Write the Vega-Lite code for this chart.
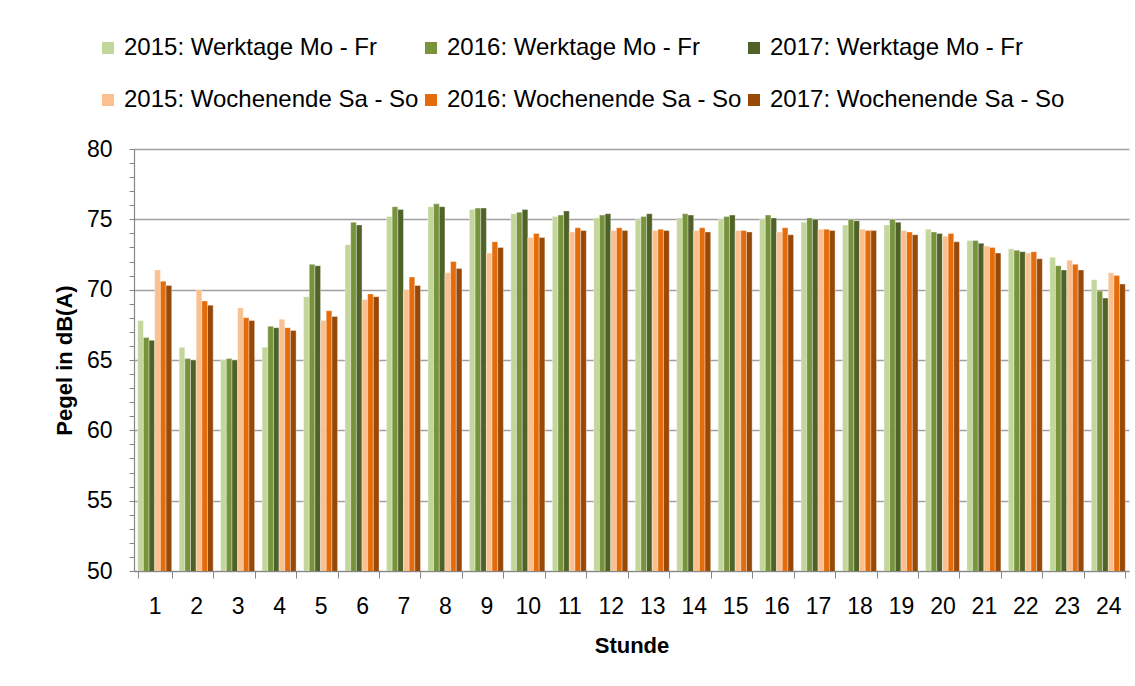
{
  "$schema": "https://vega.github.io/schema/vega-lite/v6.json",
  "width": 995,
  "height": 422,
  "autosize": {"type": "none"},
  "padding": {"left": 134, "top": 149, "right": 6, "bottom": 115},
  "background": "white",
  "config": {
    "font": "Liberation Sans",
    "view": {"stroke": null}
  },
  "datasets": {
    "pegel": [
      {"Stunde": 1, "Serie": "2015: Werktage Mo - Fr", "Pegel": 67.8},
      {"Stunde": 1, "Serie": "2016: Werktage Mo - Fr", "Pegel": 66.6},
      {"Stunde": 1, "Serie": "2017: Werktage Mo - Fr", "Pegel": 66.4},
      {"Stunde": 1, "Serie": "2015: Wochenende Sa - So", "Pegel": 71.4},
      {"Stunde": 1, "Serie": "2016: Wochenende Sa - So", "Pegel": 70.6},
      {"Stunde": 1, "Serie": "2017: Wochenende Sa - So", "Pegel": 70.3},
      {"Stunde": 2, "Serie": "2015: Werktage Mo - Fr", "Pegel": 65.9},
      {"Stunde": 2, "Serie": "2016: Werktage Mo - Fr", "Pegel": 65.1},
      {"Stunde": 2, "Serie": "2017: Werktage Mo - Fr", "Pegel": 65.0},
      {"Stunde": 2, "Serie": "2015: Wochenende Sa - So", "Pegel": 70.0},
      {"Stunde": 2, "Serie": "2016: Wochenende Sa - So", "Pegel": 69.2},
      {"Stunde": 2, "Serie": "2017: Wochenende Sa - So", "Pegel": 68.9},
      {"Stunde": 3, "Serie": "2015: Werktage Mo - Fr", "Pegel": 65.0},
      {"Stunde": 3, "Serie": "2016: Werktage Mo - Fr", "Pegel": 65.1},
      {"Stunde": 3, "Serie": "2017: Werktage Mo - Fr", "Pegel": 65.0},
      {"Stunde": 3, "Serie": "2015: Wochenende Sa - So", "Pegel": 68.7},
      {"Stunde": 3, "Serie": "2016: Wochenende Sa - So", "Pegel": 68.0},
      {"Stunde": 3, "Serie": "2017: Wochenende Sa - So", "Pegel": 67.8},
      {"Stunde": 4, "Serie": "2015: Werktage Mo - Fr", "Pegel": 65.9},
      {"Stunde": 4, "Serie": "2016: Werktage Mo - Fr", "Pegel": 67.4},
      {"Stunde": 4, "Serie": "2017: Werktage Mo - Fr", "Pegel": 67.3},
      {"Stunde": 4, "Serie": "2015: Wochenende Sa - So", "Pegel": 67.9},
      {"Stunde": 4, "Serie": "2016: Wochenende Sa - So", "Pegel": 67.3},
      {"Stunde": 4, "Serie": "2017: Wochenende Sa - So", "Pegel": 67.1},
      {"Stunde": 5, "Serie": "2015: Werktage Mo - Fr", "Pegel": 69.5},
      {"Stunde": 5, "Serie": "2016: Werktage Mo - Fr", "Pegel": 71.8},
      {"Stunde": 5, "Serie": "2017: Werktage Mo - Fr", "Pegel": 71.7},
      {"Stunde": 5, "Serie": "2015: Wochenende Sa - So", "Pegel": 67.8},
      {"Stunde": 5, "Serie": "2016: Wochenende Sa - So", "Pegel": 68.5},
      {"Stunde": 5, "Serie": "2017: Wochenende Sa - So", "Pegel": 68.1},
      {"Stunde": 6, "Serie": "2015: Werktage Mo - Fr", "Pegel": 73.2},
      {"Stunde": 6, "Serie": "2016: Werktage Mo - Fr", "Pegel": 74.8},
      {"Stunde": 6, "Serie": "2017: Werktage Mo - Fr", "Pegel": 74.6},
      {"Stunde": 6, "Serie": "2015: Wochenende Sa - So", "Pegel": 69.3},
      {"Stunde": 6, "Serie": "2016: Wochenende Sa - So", "Pegel": 69.7},
      {"Stunde": 6, "Serie": "2017: Wochenende Sa - So", "Pegel": 69.5},
      {"Stunde": 7, "Serie": "2015: Werktage Mo - Fr", "Pegel": 75.2},
      {"Stunde": 7, "Serie": "2016: Werktage Mo - Fr", "Pegel": 75.9},
      {"Stunde": 7, "Serie": "2017: Werktage Mo - Fr", "Pegel": 75.7},
      {"Stunde": 7, "Serie": "2015: Wochenende Sa - So", "Pegel": 70.0},
      {"Stunde": 7, "Serie": "2016: Wochenende Sa - So", "Pegel": 70.9},
      {"Stunde": 7, "Serie": "2017: Wochenende Sa - So", "Pegel": 70.3},
      {"Stunde": 8, "Serie": "2015: Werktage Mo - Fr", "Pegel": 75.9},
      {"Stunde": 8, "Serie": "2016: Werktage Mo - Fr", "Pegel": 76.1},
      {"Stunde": 8, "Serie": "2017: Werktage Mo - Fr", "Pegel": 75.9},
      {"Stunde": 8, "Serie": "2015: Wochenende Sa - So", "Pegel": 71.2},
      {"Stunde": 8, "Serie": "2016: Wochenende Sa - So", "Pegel": 72.0},
      {"Stunde": 8, "Serie": "2017: Wochenende Sa - So", "Pegel": 71.5},
      {"Stunde": 9, "Serie": "2015: Werktage Mo - Fr", "Pegel": 75.7},
      {"Stunde": 9, "Serie": "2016: Werktage Mo - Fr", "Pegel": 75.8},
      {"Stunde": 9, "Serie": "2017: Werktage Mo - Fr", "Pegel": 75.8},
      {"Stunde": 9, "Serie": "2015: Wochenende Sa - So", "Pegel": 72.6},
      {"Stunde": 9, "Serie": "2016: Wochenende Sa - So", "Pegel": 73.4},
      {"Stunde": 9, "Serie": "2017: Wochenende Sa - So", "Pegel": 73.0},
      {"Stunde": 10, "Serie": "2015: Werktage Mo - Fr", "Pegel": 75.4},
      {"Stunde": 10, "Serie": "2016: Werktage Mo - Fr", "Pegel": 75.5},
      {"Stunde": 10, "Serie": "2017: Werktage Mo - Fr", "Pegel": 75.7},
      {"Stunde": 10, "Serie": "2015: Wochenende Sa - So", "Pegel": 73.7},
      {"Stunde": 10, "Serie": "2016: Wochenende Sa - So", "Pegel": 74.0},
      {"Stunde": 10, "Serie": "2017: Wochenende Sa - So", "Pegel": 73.7},
      {"Stunde": 11, "Serie": "2015: Werktage Mo - Fr", "Pegel": 75.2},
      {"Stunde": 11, "Serie": "2016: Werktage Mo - Fr", "Pegel": 75.3},
      {"Stunde": 11, "Serie": "2017: Werktage Mo - Fr", "Pegel": 75.6},
      {"Stunde": 11, "Serie": "2015: Wochenende Sa - So", "Pegel": 74.1},
      {"Stunde": 11, "Serie": "2016: Wochenende Sa - So", "Pegel": 74.4},
      {"Stunde": 11, "Serie": "2017: Wochenende Sa - So", "Pegel": 74.2},
      {"Stunde": 12, "Serie": "2015: Werktage Mo - Fr", "Pegel": 75.1},
      {"Stunde": 12, "Serie": "2016: Werktage Mo - Fr", "Pegel": 75.3},
      {"Stunde": 12, "Serie": "2017: Werktage Mo - Fr", "Pegel": 75.4},
      {"Stunde": 12, "Serie": "2015: Wochenende Sa - So", "Pegel": 74.2},
      {"Stunde": 12, "Serie": "2016: Wochenende Sa - So", "Pegel": 74.4},
      {"Stunde": 12, "Serie": "2017: Wochenende Sa - So", "Pegel": 74.2},
      {"Stunde": 13, "Serie": "2015: Werktage Mo - Fr", "Pegel": 75.0},
      {"Stunde": 13, "Serie": "2016: Werktage Mo - Fr", "Pegel": 75.2},
      {"Stunde": 13, "Serie": "2017: Werktage Mo - Fr", "Pegel": 75.4},
      {"Stunde": 13, "Serie": "2015: Wochenende Sa - So", "Pegel": 74.2},
      {"Stunde": 13, "Serie": "2016: Wochenende Sa - So", "Pegel": 74.3},
      {"Stunde": 13, "Serie": "2017: Wochenende Sa - So", "Pegel": 74.2},
      {"Stunde": 14, "Serie": "2015: Werktage Mo - Fr", "Pegel": 75.1},
      {"Stunde": 14, "Serie": "2016: Werktage Mo - Fr", "Pegel": 75.4},
      {"Stunde": 14, "Serie": "2017: Werktage Mo - Fr", "Pegel": 75.3},
      {"Stunde": 14, "Serie": "2015: Wochenende Sa - So", "Pegel": 74.2},
      {"Stunde": 14, "Serie": "2016: Wochenende Sa - So", "Pegel": 74.4},
      {"Stunde": 14, "Serie": "2017: Wochenende Sa - So", "Pegel": 74.1},
      {"Stunde": 15, "Serie": "2015: Werktage Mo - Fr", "Pegel": 75.0},
      {"Stunde": 15, "Serie": "2016: Werktage Mo - Fr", "Pegel": 75.2},
      {"Stunde": 15, "Serie": "2017: Werktage Mo - Fr", "Pegel": 75.3},
      {"Stunde": 15, "Serie": "2015: Wochenende Sa - So", "Pegel": 74.2},
      {"Stunde": 15, "Serie": "2016: Wochenende Sa - So", "Pegel": 74.2},
      {"Stunde": 15, "Serie": "2017: Wochenende Sa - So", "Pegel": 74.1},
      {"Stunde": 16, "Serie": "2015: Werktage Mo - Fr", "Pegel": 75.0},
      {"Stunde": 16, "Serie": "2016: Werktage Mo - Fr", "Pegel": 75.3},
      {"Stunde": 16, "Serie": "2017: Werktage Mo - Fr", "Pegel": 75.1},
      {"Stunde": 16, "Serie": "2015: Wochenende Sa - So", "Pegel": 74.1},
      {"Stunde": 16, "Serie": "2016: Wochenende Sa - So", "Pegel": 74.4},
      {"Stunde": 16, "Serie": "2017: Wochenende Sa - So", "Pegel": 73.9},
      {"Stunde": 17, "Serie": "2015: Werktage Mo - Fr", "Pegel": 74.8},
      {"Stunde": 17, "Serie": "2016: Werktage Mo - Fr", "Pegel": 75.1},
      {"Stunde": 17, "Serie": "2017: Werktage Mo - Fr", "Pegel": 75.0},
      {"Stunde": 17, "Serie": "2015: Wochenende Sa - So", "Pegel": 74.3},
      {"Stunde": 17, "Serie": "2016: Wochenende Sa - So", "Pegel": 74.3},
      {"Stunde": 17, "Serie": "2017: Wochenende Sa - So", "Pegel": 74.2},
      {"Stunde": 18, "Serie": "2015: Werktage Mo - Fr", "Pegel": 74.6},
      {"Stunde": 18, "Serie": "2016: Werktage Mo - Fr", "Pegel": 75.0},
      {"Stunde": 18, "Serie": "2017: Werktage Mo - Fr", "Pegel": 74.9},
      {"Stunde": 18, "Serie": "2015: Wochenende Sa - So", "Pegel": 74.3},
      {"Stunde": 18, "Serie": "2016: Wochenende Sa - So", "Pegel": 74.2},
      {"Stunde": 18, "Serie": "2017: Wochenende Sa - So", "Pegel": 74.2},
      {"Stunde": 19, "Serie": "2015: Werktage Mo - Fr", "Pegel": 74.6},
      {"Stunde": 19, "Serie": "2016: Werktage Mo - Fr", "Pegel": 75.0},
      {"Stunde": 19, "Serie": "2017: Werktage Mo - Fr", "Pegel": 74.8},
      {"Stunde": 19, "Serie": "2015: Wochenende Sa - So", "Pegel": 74.2},
      {"Stunde": 19, "Serie": "2016: Wochenende Sa - So", "Pegel": 74.1},
      {"Stunde": 19, "Serie": "2017: Wochenende Sa - So", "Pegel": 73.9},
      {"Stunde": 20, "Serie": "2015: Werktage Mo - Fr", "Pegel": 74.3},
      {"Stunde": 20, "Serie": "2016: Werktage Mo - Fr", "Pegel": 74.1},
      {"Stunde": 20, "Serie": "2017: Werktage Mo - Fr", "Pegel": 74.0},
      {"Stunde": 20, "Serie": "2015: Wochenende Sa - So", "Pegel": 73.8},
      {"Stunde": 20, "Serie": "2016: Wochenende Sa - So", "Pegel": 74.0},
      {"Stunde": 20, "Serie": "2017: Wochenende Sa - So", "Pegel": 73.4},
      {"Stunde": 21, "Serie": "2015: Werktage Mo - Fr", "Pegel": 73.5},
      {"Stunde": 21, "Serie": "2016: Werktage Mo - Fr", "Pegel": 73.5},
      {"Stunde": 21, "Serie": "2017: Werktage Mo - Fr", "Pegel": 73.3},
      {"Stunde": 21, "Serie": "2015: Wochenende Sa - So", "Pegel": 73.1},
      {"Stunde": 21, "Serie": "2016: Wochenende Sa - So", "Pegel": 73.0},
      {"Stunde": 21, "Serie": "2017: Wochenende Sa - So", "Pegel": 72.6},
      {"Stunde": 22, "Serie": "2015: Werktage Mo - Fr", "Pegel": 72.9},
      {"Stunde": 22, "Serie": "2016: Werktage Mo - Fr", "Pegel": 72.8},
      {"Stunde": 22, "Serie": "2017: Werktage Mo - Fr", "Pegel": 72.7},
      {"Stunde": 22, "Serie": "2015: Wochenende Sa - So", "Pegel": 72.6},
      {"Stunde": 22, "Serie": "2016: Wochenende Sa - So", "Pegel": 72.7},
      {"Stunde": 22, "Serie": "2017: Wochenende Sa - So", "Pegel": 72.2},
      {"Stunde": 23, "Serie": "2015: Werktage Mo - Fr", "Pegel": 72.3},
      {"Stunde": 23, "Serie": "2016: Werktage Mo - Fr", "Pegel": 71.7},
      {"Stunde": 23, "Serie": "2017: Werktage Mo - Fr", "Pegel": 71.4},
      {"Stunde": 23, "Serie": "2015: Wochenende Sa - So", "Pegel": 72.1},
      {"Stunde": 23, "Serie": "2016: Wochenende Sa - So", "Pegel": 71.8},
      {"Stunde": 23, "Serie": "2017: Wochenende Sa - So", "Pegel": 71.4},
      {"Stunde": 24, "Serie": "2015: Werktage Mo - Fr", "Pegel": 70.7},
      {"Stunde": 24, "Serie": "2016: Werktage Mo - Fr", "Pegel": 69.9},
      {"Stunde": 24, "Serie": "2017: Werktage Mo - Fr", "Pegel": 69.4},
      {"Stunde": 24, "Serie": "2015: Wochenende Sa - So", "Pegel": 71.2},
      {"Stunde": 24, "Serie": "2016: Wochenende Sa - So", "Pegel": 71.0},
      {"Stunde": 24, "Serie": "2017: Wochenende Sa - So", "Pegel": 70.4}
    ]
  },
  "data": {"name": "pegel"},
  "mark": {"type": "bar", "clip": true, "stroke": "white", "strokeWidth": 0.5, "strokeOpacity": 0.7},
  "encoding": {
    "x": {
      "field": "Stunde",
      "type": "ordinal",
      "scale": {"paddingInner": 0.18, "paddingOuter": 0.09},
      "axis": {
        "title": "Stunde",
        "titleFontSize": 22,
        "titleFontWeight": "bold",
        "titleColor": "black",
        "titlePadding": 17,
        "labelAngle": 0,
        "labelFontSize": 23,
        "labelColor": "black",
        "labelPadding": 17,
        "tickBand": "extent",
        "tickSize": 7,
        "tickColor": "#868686",
        "domainColor": "#868686",
        "domainWidth": 1.2,
        "grid": false
      }
    },
    "xOffset": {
      "field": "Serie",
      "type": "nominal",
      "scale": {
        "domain": [
          "2015: Werktage Mo - Fr",
          "2016: Werktage Mo - Fr",
          "2017: Werktage Mo - Fr",
          "2015: Wochenende Sa - So",
          "2016: Wochenende Sa - So",
          "2017: Wochenende Sa - So"
        ],
        "paddingInner": 0,
        "paddingOuter": 0
      }
    },
    "y": {
      "field": "Pegel",
      "type": "quantitative",
      "scale": {"domain": [50, 80], "zero": false, "nice": false},
      "axis": {
        "title": "Pegel in dB(A)",
        "titleFontSize": 22,
        "titleFontWeight": "bold",
        "titleColor": "black",
        "titlePadding": 10,
        "values": [50,51,52,53,54,55,56,57,58,59,60,61,62,63,64,65,66,67,68,69,70,71,72,73,74,75,76,77,78,79,80],
        "labelExpr": "datum.value % 5 === 0 ? datum.label : ''",
        "labelFontSize": 23,
        "labelColor": "black",
        "labelPadding": 17,
        "tickSize": 5,
        "tickColor": "#868686",
        "domainColor": "#868686",
        "domainWidth": 1.2,
        "grid": true,
        "gridColor": "#a0a0a0",
        "gridWidth": 1.4,
        "gridOpacity": {"condition": {"test": "datum.value % 5 === 0", "value": 1}, "value": 0}
      }
    },
    "color": {
      "field": "Serie",
      "type": "nominal",
      "scale": {
        "domain": [
          "2015: Werktage Mo - Fr",
          "2016: Werktage Mo - Fr",
          "2017: Werktage Mo - Fr",
          "2015: Wochenende Sa - So",
          "2016: Wochenende Sa - So",
          "2017: Wochenende Sa - So"
        ],
        "range": ["#C3D69B", "#77933C", "#4F6228", "#FAC090", "#E46C0A", "#984807"]
      },
      "legend": {
        "title": null,
        "orient": "none",
        "legendX": -38,
        "legendY": -113,
        "direction": "horizontal",
        "columns": 3,
        "columnPadding": 0,
        "rowPadding": 28,
        "symbolType": "square",
        "symbolSize": 144,
        "symbolStrokeWidth": 0,
        "labelFontSize": 24,
        "labelColor": "black",
        "labelOffset": 4,
        "labelLimit": 400
      }
    }
  }
}
